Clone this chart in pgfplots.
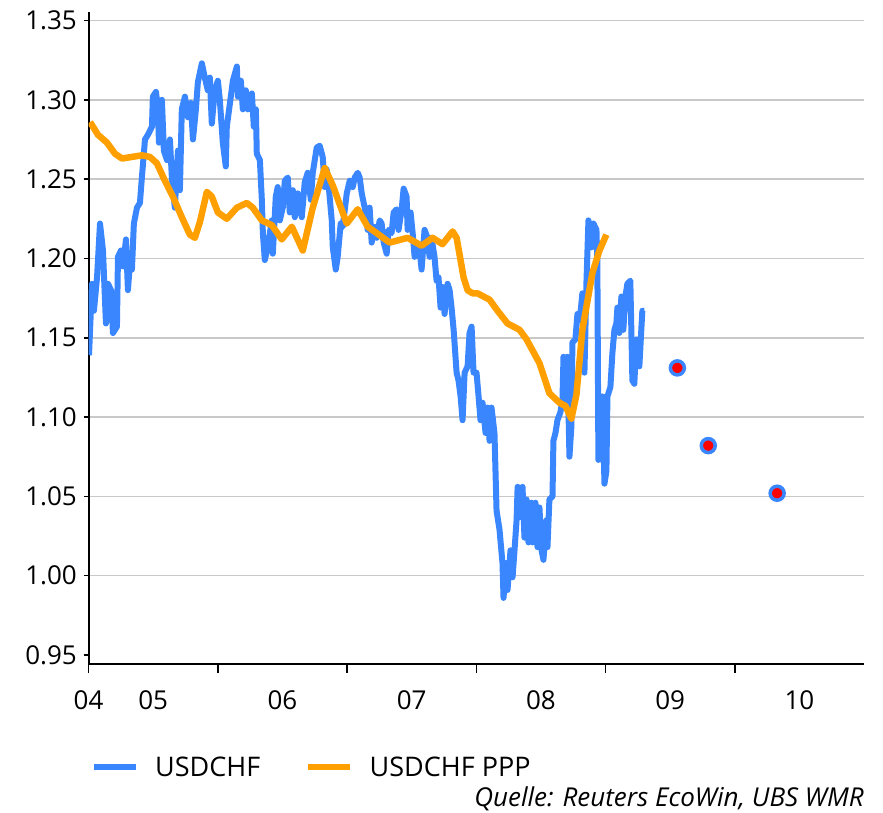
\documentclass[border=0pt]{standalone}
\usepackage{fontspec}
\setmainfont{Open Sans}
\usepackage{pgfplots}
\usepackage{pgfplotstable}
\pgfplotsset{compat=1.18}
\definecolor{usdblue}{RGB}{58,134,255}
\definecolor{pppor}{RGB}{255,160,0}
\definecolor{gridgray}{RGB}{200,200,200}

\pgfplotstableread{
t y
0.004 1.139
0.027 1.184
0.042 1.167
0.066 1.188
0.089 1.222
0.112 1.205
0.135 1.159
0.151 1.184
0.174 1.180
0.189 1.153
0.220 1.157
0.228 1.201
0.251 1.205
0.267 1.195
0.290 1.212
0.305 1.180
0.321 1.197
0.336 1.193
0.351 1.222
0.375 1.232
0.398 1.235
0.413 1.251
0.437 1.275
0.460 1.278
0.491 1.283
0.498 1.302
0.522 1.305
0.537 1.294
0.545 1.273
0.568 1.300
0.583 1.268
0.607 1.262
0.630 1.275
0.645 1.251
0.668 1.232
0.692 1.268
0.707 1.243
0.722 1.294
0.746 1.302
0.769 1.289
0.792 1.298
0.808 1.275
0.831 1.294
0.846 1.311
0.877 1.323
0.900 1.314
0.923 1.306
0.939 1.314
0.954 1.285
0.977 1.306
1.001 1.312
1.016 1.300
1.039 1.273
1.062 1.258
1.070 1.283
1.101 1.302
1.117 1.312
1.148 1.321
1.156 1.302
1.179 1.312
1.194 1.294
1.217 1.306
1.233 1.294
1.264 1.304
1.279 1.283
1.295 1.294
1.302 1.266
1.326 1.262
1.341 1.237
1.349 1.216
1.364 1.199
1.387 1.207
1.418 1.224
1.426 1.203
1.449 1.239
1.464 1.245
1.480 1.224
1.503 1.232
1.519 1.249
1.542 1.251
1.557 1.229
1.581 1.243
1.596 1.226
1.619 1.241
1.650 1.226
1.673 1.248
1.696 1.254
1.720 1.237
1.735 1.254
1.766 1.270
1.789 1.271
1.812 1.264
1.828 1.245
1.843 1.256
1.859 1.245
1.882 1.224
1.890 1.207
1.913 1.193
1.928 1.201
1.951 1.222
1.967 1.220
1.998 1.241
2.021 1.249
2.044 1.245
2.060 1.251
2.083 1.254
2.098 1.251
2.114 1.241
2.137 1.232
2.160 1.218
2.175 1.232
2.191 1.210
2.206 1.220
2.229 1.213
2.253 1.224
2.268 1.222
2.284 1.210
2.307 1.203
2.322 1.218
2.345 1.216
2.361 1.229
2.384 1.231
2.399 1.218
2.423 1.231
2.438 1.244
2.461 1.239
2.469 1.218
2.492 1.229
2.508 1.216
2.523 1.201
2.546 1.207
2.562 1.205
2.577 1.193
2.600 1.218
2.623 1.213
2.639 1.201
2.654 1.213
2.677 1.201
2.693 1.186
2.708 1.188
2.724 1.169
2.739 1.182
2.755 1.165
2.778 1.184
2.794 1.180
2.809 1.169
2.825 1.155
2.848 1.128
2.863 1.123
2.879 1.113
2.894 1.098
2.910 1.128
2.933 1.132
2.948 1.153
2.964 1.157
2.979 1.128
3.002 1.128
3.018 1.113
3.033 1.098
3.049 1.109
3.072 1.090
3.087 1.106
3.103 1.085
3.118 1.106
3.141 1.090
3.157 1.041
3.180 1.029
3.203 1.008
3.211 0.986
3.234 1.008
3.242 0.991
3.265 1.016
3.281 0.999
3.296 1.016
3.312 1.035
3.320 1.056
3.343 1.037
3.358 1.056
3.373 1.024
3.389 1.048
3.404 1.021
3.427 1.046
3.435 1.021
3.458 1.046
3.474 1.018
3.489 1.043
3.505 1.016
3.520 1.010
3.543 1.035
3.551 1.018
3.566 1.048
3.590 1.050
3.597 1.085
3.613 1.090
3.628 1.098
3.651 1.103
3.667 1.111
3.675 1.138
3.690 1.123
3.705 1.138
3.721 1.075
3.736 1.094
3.744 1.147
3.767 1.149
3.783 1.165
3.806 1.165
3.821 1.178
3.837 1.128
3.853 1.186
3.868 1.224
3.891 1.207
3.907 1.222
3.930 1.218
3.937 1.197
3.945 1.073
3.961 1.081
3.976 1.113
3.992 1.058
4.007 1.066
4.015 1.113
4.038 1.119
4.053 1.140
4.069 1.155
4.084 1.159
4.092 1.169
4.107 1.153
4.123 1.176
4.138 1.155
4.154 1.176
4.169 1.184
4.192 1.186
4.208 1.123
4.223 1.121
4.239 1.149
4.262 1.132
4.277 1.155
4.285 1.167
4.300 1.167
}\usdchf

\pgfplotstableread{
t y
0.012 1.286
0.073 1.278
0.143 1.273
0.205 1.266
0.259 1.263
0.336 1.264
0.413 1.265
0.475 1.264
0.529 1.260
0.591 1.249
0.653 1.239
0.722 1.226
0.784 1.215
0.823 1.213
0.862 1.223
0.916 1.242
0.954 1.239
1.001 1.229
1.070 1.225
1.148 1.232
1.225 1.235
1.271 1.232
1.341 1.224
1.418 1.221
1.495 1.212
1.573 1.220
1.658 1.205
1.735 1.232
1.828 1.257
1.890 1.246
1.998 1.222
2.083 1.231
2.160 1.220
2.229 1.216
2.330 1.210
2.469 1.213
2.577 1.208
2.662 1.213
2.739 1.209
2.817 1.217
2.848 1.213
2.872 1.202
2.902 1.188
2.933 1.180
2.972 1.178
3.010 1.178
3.103 1.174
3.165 1.167
3.242 1.159
3.335 1.155
3.389 1.149
3.489 1.134
3.566 1.115
3.644 1.109
3.690 1.107
3.736 1.099
3.775 1.114
3.821 1.155
3.899 1.191
3.953 1.205
4.007 1.215
}\ppp

\pgfplotstableread{
t y
4.556 1.131
4.795 1.082
5.328 1.052
}\forecast

\begin{document}
\begin{tikzpicture}
\useasboundingbox (0,0) rectangle (883pt,812pt);
\begin{axis}[
  at={(88.5pt,148pt)}, anchor=south west,
  scale only axis, width=775.5pt, height=652pt,
  xmin=0, xmax=6, ymin=0.94433, ymax=1.35536,
  axis x line*=bottom, axis y line*=left,
  axis line style={line width=2pt, black},
  tick align=outside,
  major tick length=5pt,
  minor tick length=9pt,
  tick style={black, line width=1.5pt},
  minor tick style={black, line width=1.5pt},
  xtick={0,1,2,3,4,5},
  xticklabels={,,,,,},
  minor xtick={0,1,2,3,4,5},
  extra x ticks={0,0.5,1.5,2.5,3.5,4.5,5.5},
  extra x tick labels={04,05,06,07,08,09,10},
  extra x tick style={major tick length=0pt, tick style={draw=none}},
  ytick={1.00,1.05,1.10,1.15,1.20,1.25,1.30,1.35},
  yticklabels={1.00,1.05,1.10,1.15,1.20,1.25,1.30,1.35},
  extra y ticks={0.95},
  extra y tick labels={0.95},
  extra y tick style={grid=none},
  ymajorgrids,
  major grid style={gridgray, line width=1.5pt},
  /pgf/number format/assume math mode=true,
  tick label style={font=\fontsize{26}{30}\selectfont, inner sep=0pt},
  yticklabel style={xshift=-6.5pt},
  xticklabel style={yshift=-26pt},
  legend columns=2,
  legend style={draw=none, fill=none, inner xsep=0pt, inner ysep=0pt,
    nodes={inner sep=0pt, text depth=0pt},
    cells={anchor=west},
    font=\fontsize{27}{32}\selectfont,
    at={(axis description cs:0,0)}, anchor=west,
    xshift=2pt, yshift=-103pt,
    /tikz/every odd column/.append style={column sep=16pt},
    /tikz/every even column/.append style={column sep=45pt}},
]
\addplot[usdblue, line width=6pt, line join=round, no markers,
  legend image code/.code={\draw[usdblue, line width=6.5pt] (0pt,0pt) -- (42pt,0pt);}]
  table[x=t, y=y] {\usdchf};
\addlegendentry{USDCHF}
\addplot[pppor, line width=6.5pt, line join=round, no markers,
  legend image code/.code={\draw[pppor, line width=6.5pt] (0pt,0pt) -- (42pt,0pt);}]
  table[x=t, y=y] {\ppp};
\addlegendentry{USDCHF PPP}
\addplot[only marks, mark=*, mark size=7pt,
  mark options={fill=red, draw=usdblue, line width=3.5pt}, forget plot]
  table[x=t, y=y] {\forecast};
\end{axis}
\node[anchor=base east, font=\itshape\fontsize{26}{30}\selectfont, inner sep=0pt]
  at (864pt,6pt) {Quelle: Reuters EcoWin, UBS WMR};
\end{tikzpicture}
\end{document}
